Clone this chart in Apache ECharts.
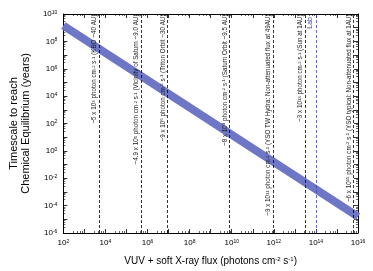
<!DOCTYPE html>
<html>
<head>
<meta charset="utf-8">
<script src="https://cdn.jsdelivr.net/npm/echarts@6/dist/echarts.min.js"></script>
<style>
html, body { margin: 0; padding: 0; background: #fff; }
#chart { width: 373px; height: 271px; }
</style>
</head>
<body>
<div id="chart"></div>
<script>
// equilibrium timescale band (years) vs flux
const bandFlux = [1e2, 1e16]
const bandYears = [1.4e9, 1.6e-5]

// reference environments (vertical dashed lines)
const refFlux = [5e3, 4.9e5, 9e6, 8e9, 9e11, 3e13, 6e15]
const refCoef = ['5', '4.9', '9', '8', '9', '3', '6']
const refExp = ['3', '5', '6', '9', '11', '13', '15']
const refNote = [
    'KBO ~40 AU',
    'Vicinity of Saturn ~9.0 AU',
    'Triton Orbit ~30 AU',
    'Saturn Orbit ~9.5 AU',
    'YSO TW Hydra: Non-attenuated flux at 49AU',
    'Sun at 1AU',
    'YSO typical: Non-attenuated flux at 1AU'
]
const labFlux = 1e14
const labName = 'Lab'

const FONT = 'Liberation Sans, Arial, sans-serif'
const bandColor = 'rgb(110,118,198)'
const labColor = '#3848b0'

function powLabel(v) {
    let e = Math.round(Math.log10(v))
    if (e % 2 !== 0) return ''
    return '10{s|' + e + '}'
}

function refLabel(i) {
    return '~' + refCoef[i] + ' x 10{s|' + refExp[i] + '} photon cm{s|-2} s{s|-1} (' + refNote[i] + ')'
}

let tickLabel = {
    fontFamily: FONT,
    fontSize: 8,
    color: '#000',
    formatter: powLabel,
    rich: {
        s: { fontSize: 5, verticalAlign: 'top', fontFamily: FONT }
    }
}

let lineDash = {
    color: '#000',
    type: [3, 2],
    width: 0.8
}

let markData = refFlux.map((f, i) => ({
    xAxis: f,
    label: { formatter: refLabel(i) }
}))
markData.push({
    xAxis: labFlux,
    lineStyle: { color: labColor, type: [3, 2], width: 0.8 },
    label: { formatter: labName, color: labColor, fontSize: 7, distance: [3, 2] }
})

let axisCommon = {
    type: 'log',
    logBase: 10,
    interval: 1,
    axisLine: { show: true, onZero: false, lineStyle: { color: '#000', width: 1 } },
    axisTick: { show: true, inside: true, length: 4, lineStyle: { color: '#000', width: 0.8 } },
    minorTick: { show: true, splitNumber: 5, length: 2, lineStyle: { color: '#000', width: 0.6 } },
    splitLine: { show: false }
}

let option = {
    animation: false,
    backgroundColor: '#fff',
    grid: { left: 47, right: 15, top: 14, bottom: 37 },
    xAxis: [
        Object.assign({}, axisCommon, {
            min: 1e2,
            max: 1e16,
            position: 'bottom',
            axisLabel: Object.assign({}, tickLabel, { margin: 6 }),
            name: 'VUV + soft X-ray flux (photons cm{s|-2} s{s|-1})',
            nameLocation: 'middle',
            nameGap: 23,
            nameTextStyle: {
                fontFamily: FONT,
                fontSize: 10,
                color: '#000',
                rich: { s: { fontSize: 6, verticalAlign: 'top', fontFamily: FONT } }
            }
        }),
        Object.assign({}, axisCommon, {
            min: 1e2,
            max: 1e16,
            position: 'top',
            axisLabel: { show: false }
        })
    ],
    yAxis: [
        Object.assign({}, axisCommon, {
            min: 1e-6,
            max: 1e10,
            position: 'left',
            axisLabel: Object.assign({}, tickLabel, { margin: 6 }),
            name: 'Timescale to reach\nChemical Equilibrium (years)',
            nameLocation: 'middle',
            nameGap: 29,
            nameTextStyle: {
                fontFamily: FONT,
                fontSize: 11,
                lineHeight: 12,
                color: '#000'
            }
        }),
        Object.assign({}, axisCommon, {
            min: 1e-6,
            max: 1e10,
            position: 'right',
            axisLabel: { show: false }
        })
    ],
    series: [
        {
            type: 'line',
            xAxisIndex: 0,
            yAxisIndex: 0,
            data: bandFlux.map((f, i) => [f, bandYears[i]]),
            symbol: 'none',
            silent: true,
            lineStyle: { width: 8, color: bandColor, cap: 'butt' },
            markLine: {
                silent: true,
                symbol: 'none',
                animation: false,
                lineStyle: lineDash,
                label: {
                    show: true,
                    position: 'insideEndTop',
                    distance: [0.5, 1.5],
                    fontFamily: FONT,
                    fontSize: 6.3,
                    color: '#222',
                    rich: {
                        s: { fontSize: 4.3, verticalAlign: 'top', fontFamily: FONT }
                    }
                },
                data: markData
            }
        }
    ]
}

let chart = echarts.init(document.getElementById('chart'), null, { renderer: 'canvas' })
chart.setOption(option)
</script>
</body>
</html>
